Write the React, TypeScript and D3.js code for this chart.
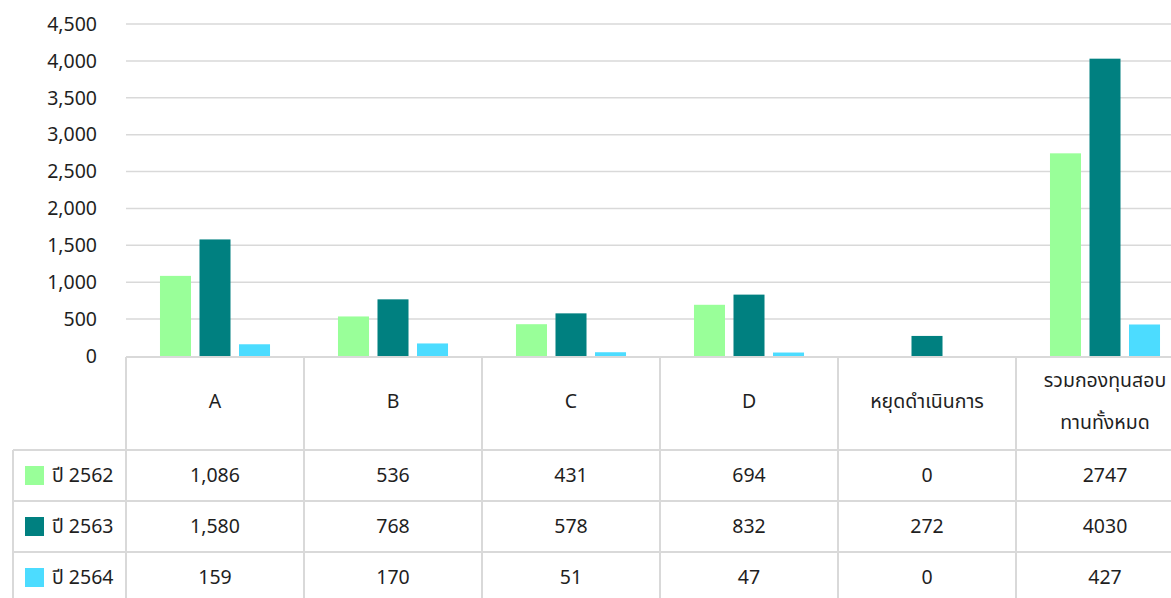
import React from "react";
import * as d3 from "d3";

const categories: string[][] = [["A"], ["B"], ["C"], ["D"], ["หยุดดำเนินการ"], ["รวมกองทุนสอบ", "ทานทั้งหมด"]];
const seriesNames = ["ปี 2562", "ปี 2563", "ปี 2564"];
const values2562 = [1086, 536, 431, 694, 0, 2747];
const values2563 = [1580, 768, 578, 832, 272, 4030];
const values2564 = [159, 170, 51, 47, 0, 427];
const tableLabels2562 = ["1,086", "536", "431", "694", "0", "2747"];
const tableLabels2563 = ["1,580", "768", "578", "832", "272", "4030"];
const tableLabels2564 = ["159", "170", "51", "47", "0", "427"];
const yTicks = [0, 500, 1000, 1500, 2000, 2500, 3000, 3500, 4000, 4500];
const colors = ["#99ff99", "#008080", "#4cdcff"];

const W = 1171;
const H = 598;
const FONT = "'Noto Sans Thai', Tahoma, 'Leelawadee UI', 'Noto Sans', sans-serif";

export default function App() {
  const series = [values2562, values2563, values2564];
  const labels = [tableLabels2562, tableLabels2563, tableLabels2564];
  const plotLeft = 126;
  const colW = 178;
  const plotRight = plotLeft + colW * categories.length;
  const x = d3.scaleBand<number>().domain(d3.range(categories.length)).range([plotLeft, plotRight]);
  const inner = d3.scaleBand<number>().domain([0, 1, 2]).range([0, x.bandwidth()]).paddingInner(0.215).paddingOuter(0.86);
  const y = d3.scaleLinear().domain([0, 4500]).range([356, 24]);
  const tableTop = 357;
  const headerBottom = 450;
  const rowH = 51;
  const gridColor = "#d9d9d9";
  const textColor = "#1f1f1f";
  const fs = 19.5;

  return (
    <svg width={W} height={H} style={{ position: "fixed", left: 0, top: 0, background: "#fff" }} fontFamily={FONT}>
      {yTicks.map((t) => (
        <g key={t}>
          {t > 0 && <line x1={plotLeft} x2={plotRight} y1={y(t)} y2={y(t)} stroke={gridColor} strokeWidth={1.5} />}
          <text x={97} y={y(t)} dy="0.35em" textAnchor="end" fontSize={fs} fill={textColor}>
            {d3.format(",")(t)}
          </text>
        </g>
      ))}
      {series.map((vals, si) =>
        vals.map((v, ci) =>
          v > 0 ? (
            <rect
              key={`${si}-${ci}`}
              x={(x(ci) as number) + (inner(si) as number)}
              width={inner.bandwidth()}
              y={y(v)}
              height={y(0) - y(v)}
              fill={colors[si]}
            />
          ) : null
        )
      )}
      {/* table lines */}
      <line x1={plotLeft} x2={plotRight} y1={tableTop} y2={tableTop} stroke={gridColor} strokeWidth={2} />
      {[0, 1, 2].map((r) => (
        <line key={r} x1={13} x2={plotRight} y1={headerBottom + r * rowH} y2={headerBottom + r * rowH} stroke={gridColor} strokeWidth={2} />
      ))}
      <line x1={13} x2={13} y1={headerBottom} y2={H} stroke={gridColor} strokeWidth={2} />
      {d3.range(categories.length + 1).map((i) => (
        <line key={i} x1={plotLeft + i * colW} x2={plotLeft + i * colW} y1={tableTop} y2={H} stroke={gridColor} strokeWidth={2} />
      ))}
      {categories.map((lines, ci) => {
        const cx = (x(ci) as number) + x.bandwidth() / 2;
        const mid = (tableTop + headerBottom) / 2 - 2;
        return (
          <text key={ci} x={cx} textAnchor="middle" fontSize={fs} fill={textColor}>
            {lines.map((l, li) => (
              <tspan key={li} x={cx} y={mid + (li - (lines.length - 1) / 2) * 42} dy="0.35em">
                {l}
              </tspan>
            ))}
          </text>
        );
      })}
      {seriesNames.map((name, si) => {
        const cy = headerBottom + si * rowH + rowH / 2;
        return (
          <g key={name}>
            <rect x={25} y={cy - 9.5} width={19} height={19} fill={colors[si]} />
            <text x={52} y={cy} dy="0.35em" fontSize={fs} fill={textColor}>
              {name}
            </text>
            {labels[si].map((lab, ci) => (
              <text key={ci} x={(x(ci) as number) + x.bandwidth() / 2} y={cy} dy="0.35em" textAnchor="middle" fontSize={fs} fill={textColor}>
                {lab}
              </text>
            ))}
          </g>
        );
      })}
    </svg>
  );
}
